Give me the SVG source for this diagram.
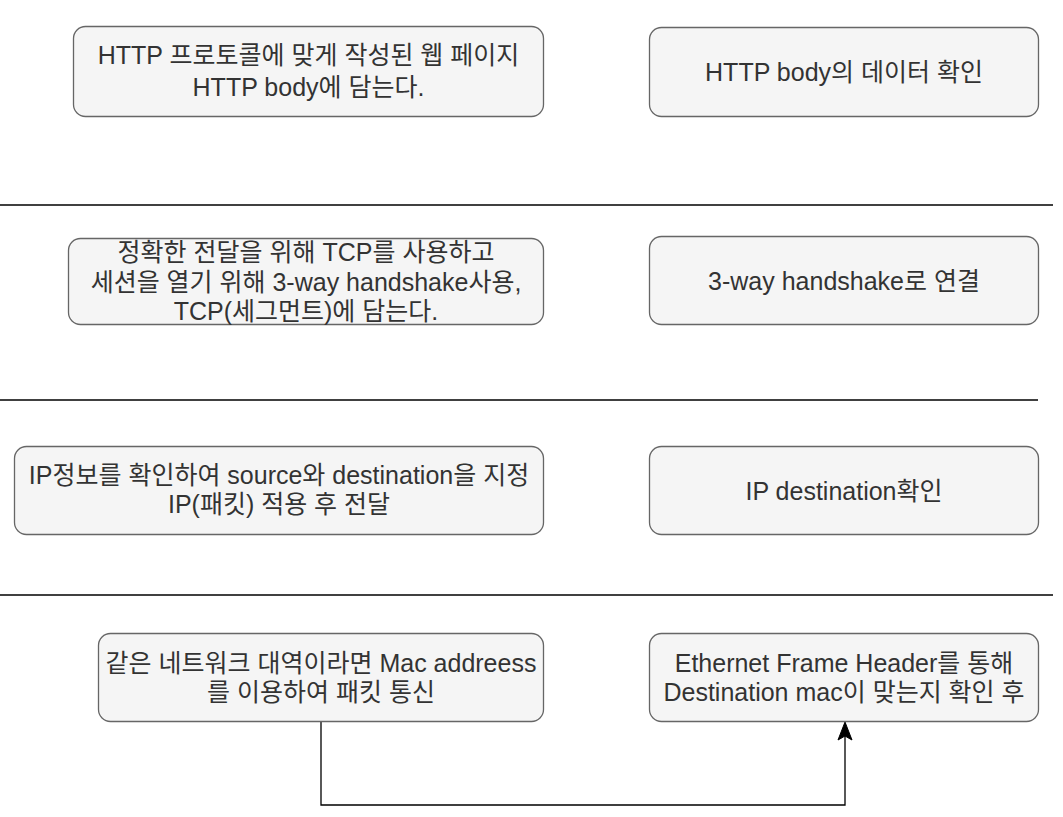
<svg xmlns="http://www.w3.org/2000/svg" width="1063" height="817" viewBox="0 0 1063 817">
<style>
.box{fill:#f5f5f5;stroke:#666666;stroke-width:1.3}
.t{font-family:"Liberation Sans","Noto Sans CJK KR",Arial,sans-serif;font-size:25px;fill:#333333;text-anchor:middle}
.sep{stroke:#000000;stroke-width:1.3}
.conn{fill:none;stroke:#000000;stroke-width:1.3}
</style>
<rect width="1063" height="817" fill="#ffffff"/>
<g id="separators">
<line class="sep" x1="0" y1="205" x2="1053" y2="205"/>
<line class="sep" x1="0" y1="400" x2="1038" y2="400"/>
<line class="sep" x1="0" y1="595" x2="1053" y2="595"/>
</g>
<g id="connectors">
<path class="conn" d="M321,722 L321,805 L845,805 L845,724"/>
<path d="M845,722 L852,740 L845,736 L838,740 Z" fill="#000000" stroke="#000000" stroke-width="1"/>
</g>
<g id="node-app-send">
<rect class="box" x="73.5" y="26.5" width="470" height="90" rx="12"/>
<text class="t" x="308.5" y="64">HTTP 프로토콜에 맞게 작성된 웹 페이지</text>
<text class="t" x="308.5" y="96">HTTP body에 담는다.</text>
</g>
<g id="node-app-recv">
<rect class="box" x="649.5" y="27.5" width="389" height="89" rx="12"/>
<text class="t" x="844" y="81">HTTP body의 데이터 확인</text>
</g>
<g id="node-tcp-send">
<rect class="box" x="68.5" y="238.5" width="475" height="86" rx="12"/>
<text class="t" x="306" y="261">정확한 전달을 위해 TCP를 사용하고</text>
<text class="t" x="306" y="291">세션을 열기 위해 3-way handshake사용,</text>
<text class="t" x="306" y="320">TCP(세그먼트)에 담는다.</text>
</g>
<g id="node-tcp-recv">
<rect class="box" x="649.5" y="236.5" width="389" height="88" rx="12"/>
<text class="t" x="844" y="290">3-way handshake로 연결</text>
</g>
<g id="node-ip-send">
<rect class="box" x="14.5" y="446.5" width="529" height="88" rx="12"/>
<text class="t" x="279" y="484">IP정보를 확인하여 source와 destination을 지정</text>
<text class="t" x="279" y="513">IP(패킷) 적용 후 전달</text>
</g>
<g id="node-ip-recv">
<rect class="box" x="649.5" y="446.5" width="389" height="88" rx="12"/>
<text class="t" x="844" y="500">IP destination확인</text>
</g>
<g id="node-eth-send">
<rect class="box" x="98.5" y="633.5" width="445" height="88" rx="12"/>
<text class="t" x="321" y="672">같은 네트워크 대역이라면 Mac addreess</text>
<text class="t" x="321" y="701">를 이용하여 패킷 통신</text>
</g>
<g id="node-eth-recv">
<rect class="box" x="649.5" y="633.5" width="389" height="88" rx="12"/>
<text class="t" x="844" y="672">Ethernet Frame Header를 통해</text>
<text class="t" x="844" y="701">Destination mac이 맞는지 확인 후</text>
</g>
</svg>
